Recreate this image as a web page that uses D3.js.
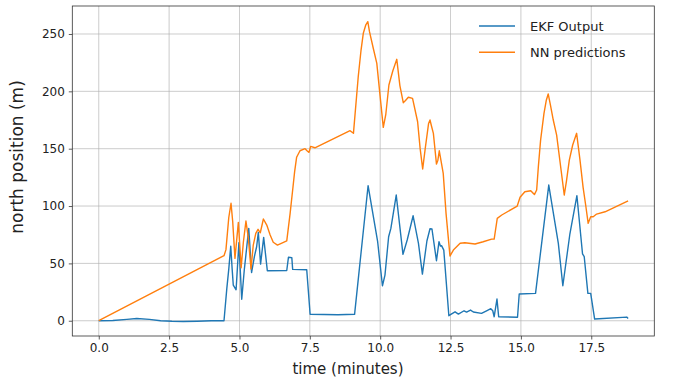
<!DOCTYPE html>
<html><head><meta charset="utf-8">
<script src="https://cdn.jsdelivr.net/npm/d3@7"></script>
<style>body{margin:0;background:#fff}svg{display:block}text{font-family:"DejaVu Sans",sans-serif}</style>
</head><body>
<svg id="c" width="675" height="380"></svg>
<script>
const ekfTime=[0,0.5,1.0,1.35,1.8,2.2,2.6,3.0,3.5,4.0,4.45,4.55,4.62,4.69,4.74,4.78,4.88,4.98,5.08,5.17,5.33,5.43,5.53,5.61,5.67,5.75,5.86,5.99,6.68,6.74,6.86,6.89,7.39,7.51,8.5,9.09,9.57,9.91,10.08,10.17,10.3,10.38,10.57,10.81,10.96,11.17,11.36,11.5,11.66,11.77,11.84,12.0,12.09,12.14,12.18,12.26,12.44,12.51,12.66,12.78,12.98,13.07,13.21,13.31,13.6,13.78,13.93,14.0,14.05,14.15,14.21,14.88,14.94,15.52,15.99,16.33,16.49,16.74,16.99,17.19,17.25,17.38,17.48,17.62,18.76,18.81];
const ekfNorth=[0,0.2,1.2,2,1.2,0,-0.5,-0.6,-0.4,0,0,28,45,65,45,31,27,68,18.7,44,80.5,42,56,64.5,77,49.4,72.7,43.6,43.8,55.3,55,44.8,44.5,5.6,5.2,5.6,117.7,68.9,30.5,39.8,73.2,80.5,109.6,57.9,70.4,91.5,67.5,40.7,69.5,80.2,80,52.3,68.9,65.1,65.5,61.6,4.4,5.6,7.8,5.8,8.7,7.6,9.3,7.6,6.4,8.7,10.5,8.7,3.5,18.9,3.5,3,23.3,23.9,118.3,67.5,30.5,75.6,109,58.2,55.8,23.9,23.9,1.5,3.2,2];
const nnTime=[0,4.45,4.52,4.62,4.7,4.76,4.84,4.96,5.06,5.14,5.23,5.31,5.41,5.49,5.58,5.66,5.74,5.85,5.97,6.09,6.2,6.35,6.68,6.8,6.89,6.96,7.03,7.15,7.33,7.41,7.47,7.53,7.68,8.93,9.05,9.22,9.32,9.4,9.49,9.56,9.62,9.75,9.88,9.98,10.11,10.2,10.31,10.45,10.59,10.7,10.82,10.9,11.0,11.15,11.33,11.42,11.51,11.6,11.72,11.77,11.82,11.89,12.0,12.05,12.1,12.24,12.34,12.48,12.6,12.84,13.01,13.37,13.66,13.96,14.05,14.16,14.32,14.87,14.97,15.14,15.35,15.48,15.56,15.62,15.7,15.82,15.9,15.97,16.05,16.15,16.27,16.39,16.54,16.62,16.72,16.84,16.98,17.1,17.21,17.31,17.39,17.48,17.57,17.69,17.99,18.81];
const nnNorth=[0,56.7,62,90,102.4,86.3,54.4,85.8,46.2,68.9,86.9,73.2,45.1,66,76.2,79.7,76.7,88.7,83.4,74.7,68.4,66,69.7,93.6,114,130,142.5,148.2,150,148,146.8,152,150.8,165.7,163.4,212.7,236,250.6,258,260.7,252,238,224.4,200,168.6,180,205.5,218,227.9,205,190.1,192,194.8,193.9,173.5,150,132.3,150,172,175,170,163.4,136.6,140,148.2,128.5,93.6,56.4,61.6,67.5,68,66.9,68.9,71.2,71.2,89.3,92.2,100,107.6,112.5,113.3,110,114,134.3,157.5,180.8,192,197.7,188,175,161.9,138.6,109.6,122,140.1,153.2,163.4,140.1,116.3,99.4,84.9,90.7,90.7,93,95,104.6];
const xTicks=[0,2.5,5,7.5,10,12.5,15,17.5];
const yTicks=[0,50,100,150,200,250];
const seriesNames=["EKF Output","NN predictions"];
const colors=["#1f77b4","#ff7f0e"];

const svg=d3.select("#c");
const L=72.3,R=654.3,T=6,B=336;
const x=d3.scaleLinear().domain([-0.94,19.74]).range([L,R]);
const y=d3.scaleLinear().domain([-13.3,274.4]).range([B,T]);

const g=svg.append("g");
g.selectAll(".gx").data(xTicks).enter().append("line")
 .attr("x1",d=>x(d)).attr("x2",d=>x(d)).attr("y1",T).attr("y2",B)
 .attr("stroke","#b0b0b0").attr("stroke-width",0.8).attr("opacity",0.8);
g.selectAll(".gy").data(yTicks).enter().append("line")
 .attr("y1",d=>y(d)).attr("y2",d=>y(d)).attr("x1",L).attr("x2",R)
 .attr("stroke","#b0b0b0").attr("stroke-width",0.8).attr("opacity",0.8);

const xa=svg.append("g").attr("transform",`translate(0,${B})`)
 .call(d3.axisBottom(x).tickValues(xTicks).tickFormat(d3.format(".1f")).tickSize(3.5).tickPadding(4));
const ya=svg.append("g").attr("transform",`translate(${L},0)`)
 .call(d3.axisLeft(y).tickValues(yTicks).tickFormat(d3.format("d")).tickSize(3.5).tickPadding(4));
[xa,ya].forEach(a=>{a.select(".domain").remove();a.selectAll("line").attr("stroke","#333").attr("stroke-width",0.8);
 a.selectAll("text").attr("font-size","12px").attr("fill","#222").style("font-family","DejaVu Sans");});

svg.append("clipPath").attr("id","cp").append("rect").attr("x",L).attr("y",T).attr("width",R-L).attr("height",B-T);
const ekf=ekfTime.map((t,i)=>[t,ekfNorth[i]]);
const nn=nnTime.map((t,i)=>[t,nnNorth[i]]);
const line=d3.line().x(d=>x(d[0])).y(d=>y(d[1]));
svg.append("path").datum(ekf).attr("fill","none").attr("stroke",colors[0]).attr("stroke-width",1.4)
 .attr("stroke-linejoin","round").attr("clip-path","url(#cp)").attr("d",line);
svg.append("path").datum(nn).attr("fill","none").attr("stroke",colors[1]).attr("stroke-width",1.4)
 .attr("stroke-linejoin","round").attr("clip-path","url(#cp)").attr("d",line);

svg.append("rect").attr("x",L).attr("y",T).attr("width",R-L).attr("height",B-T)
 .attr("fill","none").attr("stroke","#333").attr("stroke-width",0.8);

svg.append("text").attr("x",348).attr("y",374).attr("text-anchor","middle")
 .attr("font-size","15px").attr("fill","#222").text("time (minutes)");
svg.append("text").attr("transform",`translate(23,157) rotate(-90)`).attr("text-anchor","middle")
 .attr("font-size","17px").attr("fill","#222").text("north position (m)");

const lg=svg.append("g");
seriesNames.forEach((n,i)=>{
 const yy=26+i*26.3;
 lg.append("line").attr("x1",479).attr("x2",515).attr("y1",yy).attr("y2",yy).attr("stroke",colors[i]).attr("stroke-width",1.4);
 lg.append("text").attr("x",530).attr("y",yy+4.5).attr("font-size","13px").attr("fill","#222").text(n);
});
</script>
</body></html>
